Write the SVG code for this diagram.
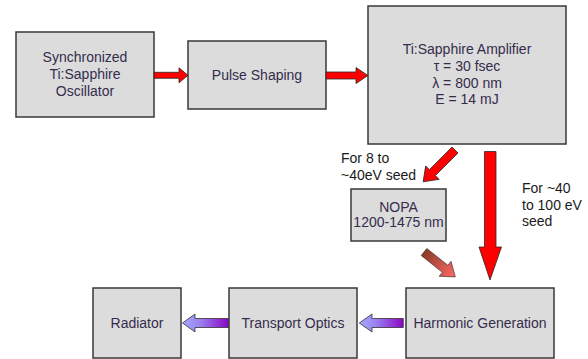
<svg xmlns="http://www.w3.org/2000/svg" width="588" height="359" viewBox="0 0 588 359">
<defs>
<style>
.box{fill:#dcdcdc;stroke:#383838;stroke-width:1.5}
.t{font-family:"Liberation Sans",Arial,sans-serif;font-size:14px;fill:#352c4c;text-anchor:middle}
.lbl{font-family:"Liberation Sans",Arial,sans-serif;font-size:14px;fill:#1a1a1a}
.red{fill:#ff0000;stroke:#2a2a2a;stroke-width:0.8;stroke-linejoin:miter}
.pur{stroke:#333;stroke-width:0.8}
.brn{stroke:#3a2a2a;stroke-width:0.6}
</style>
<linearGradient id="gPurA" gradientUnits="objectBoundingBox" x1="0" y1="0" x2="1" y2="0">
<stop offset="0" stop-color="#a4a8ff"/>
<stop offset="0.35" stop-color="#9c86f2"/>
<stop offset="1" stop-color="#8a06c4"/>
</linearGradient>
<linearGradient id="gBrn" gradientUnits="userSpaceOnUse" x1="0" y1="0" x2="40" y2="0">
<stop offset="0" stop-color="#8a3b28"/>
<stop offset="1" stop-color="#ff6a6a"/>
</linearGradient>
</defs>
<rect width="588" height="359" fill="#ffffff"/>

<g id="oscillator">
<rect class="box" x="16" y="32" width="138" height="85"/>
<text class="t" x="85" y="62">Synchronized</text>
<text class="t" x="85" y="79">Ti:Sapphire</text>
<text class="t" x="85" y="96">Oscillator</text>
</g>

<g id="pulse-shaping">
<rect class="box" x="188" y="41" width="138" height="68"/>
<text class="t" x="257" y="80">Pulse Shaping</text>
</g>

<g id="amplifier">
<rect class="box" x="368" y="6" width="198" height="138"/>
<text class="t" x="467" y="54">Ti:Sapphire Amplifier</text>
<text class="t" x="467" y="71">τ = 30 fsec</text>
<text class="t" x="467" y="88">λ = 800 nm</text>
<text class="t" x="467" y="104">E = 14 mJ</text>
</g>

<g id="nopa">
<rect class="box" x="351" y="189" width="95" height="52"/>
<text class="t" x="398.5" y="212">NOPA</text>
<text class="t" x="398.5" y="227">1200-1475 nm</text>
</g>

<g id="harmonic-generation">
<rect class="box" x="406" y="288" width="148" height="70"/>
<text class="t" x="480" y="328">Harmonic Generation</text>
</g>

<g id="transport-optics">
<rect class="box" x="229" y="288" width="128" height="70"/>
<text class="t" x="293" y="328">Transport Optics</text>
</g>

<g id="radiator">
<rect class="box" x="93" y="288" width="88" height="70"/>
<text class="t" x="137" y="328">Radiator</text>
</g>

<g id="connectors">
<polygon class="red" points="154,72.3 179,72.3 179,67.8 188,75.3 179,82.8 179,78.3 154,78.3"/>
<polygon class="red" points="326,72 356,72 356,67.5 368,75.5 356,83.5 356,79 326,79"/>
<polygon class="red" transform="translate(455,150) rotate(135)" points="0,-4.2 32,-4.2 32,-9.5 45,0 32,9.5 32,4.2 0,4.2"/>
<polygon class="red" points="484.5,151.5 496,151.5 496,247 501.5,247 490,280 479,247 484.5,247"/>
<polygon class="brn" fill="url(#gBrn)" transform="translate(424,252) rotate(38.5)" points="0,-4.5 27,-4.5 27,-9.5 40,0 27,9.5 27,4.5 0,4.5"/>
<polygon class="pur" fill="url(#gPurA)" points="182.5,323 195,314 195,318.5 228.5,318.5 228.5,327.5 195,327.5 195,332"/>
<polygon class="pur" fill="url(#gPurA)" points="359.3,323 372,314 372,318.5 403.3,318.5 403.3,327.5 372,327.5 372,332"/>
</g>

<g id="labels">
<text class="lbl" x="341" y="163">For 8 to</text>
<text class="lbl" x="341" y="180">~40eV seed</text>
<text class="lbl" x="522" y="193">For ~40</text>
<text class="lbl" x="522" y="210">to 100 eV</text>
<text class="lbl" x="522" y="226">seed</text>
</g>
</svg>
